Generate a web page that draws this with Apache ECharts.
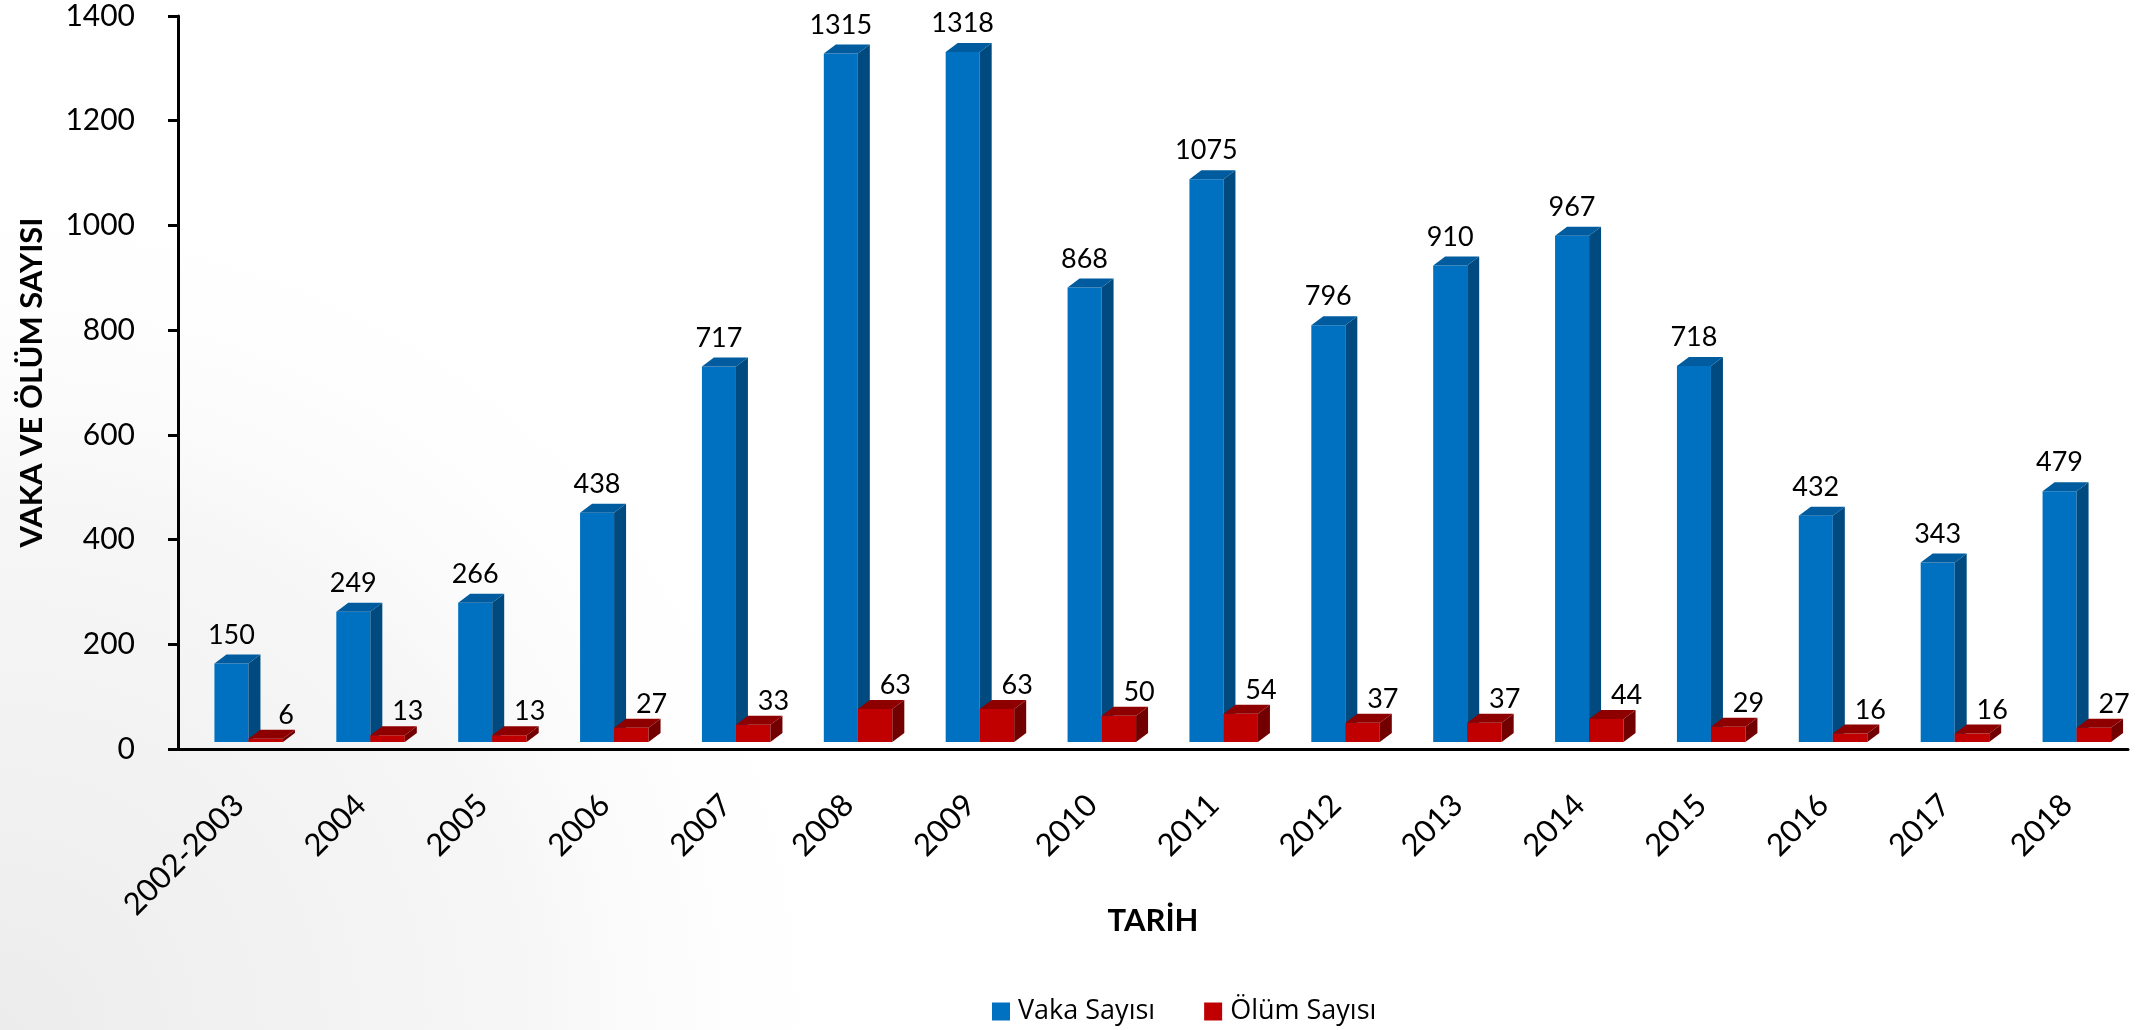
<!DOCTYPE html>
<html>
<head>
<meta charset="utf-8">
<script src="https://cdn.jsdelivr.net/npm/echarts@6/dist/echarts.min.js"></script>
<style>
html,body{margin:0;padding:0;background:#fff;}
#chart{width:2141px;height:1030px;}
</style>
</head>
<body>
<div id="chart"></div>
<script>
// ---- data ----
const categories = ['2002-2003','2004','2005','2006','2007','2008','2009','2010','2011','2012','2013','2014','2015','2016','2017','2018'];
const vakaSayisi = [150,249,266,438,717,1315,1318,868,1075,796,910,967,718,432,343,479];
const olumSayisi = [6,13,13,27,33,63,63,50,54,37,37,44,29,16,16,27];
const yMin = 0, yMax = 1400, yInterval = 200;
const seriesNames = ['Vaka Sayısı','Ölüm Sayısı'];
const yTitle = 'VAKA VE ÖLÜM SAYISI';
const xTitle = 'TARİH';

// ---- 3D bar drawing ----
function bar3d(colors, x0f, x1f, labelDxF, labelGap) {
  return function (params, api) {
    const i = api.value(0), v = api.value(1);
    const c = api.coord([i, v]);
    const b = api.coord([i, 0]);
    const band = api.size([1, 0])[0];
    const lift = 7, dx = 12, dy = 9;
    const xl = c[0] + x0f * band, xr = c[0] + x1f * band;
    const yb = b[1] - lift, yt = c[1] - lift;
    return {
      type: 'group',
      children: [
        {type: 'rect', shape: {x: xl, y: yt, width: xr - xl, height: yb - yt}, style: {fill: colors[0]}},
        {type: 'polygon', shape: {points: [[xr, yt], [xr + dx, yt - dy], [xr + dx, yb - dy], [xr, yb]]}, style: {fill: colors[2]}},
        {type: 'polygon', shape: {points: [[xl, yt], [xl + dx, yt - dy], [xr + dx, yt - dy], [xr, yt]]}, style: {fill: colors[1]}},
        {type: 'text', style: {text: String(v), x: c[0] + labelDxF * band, y: yt - labelGap,
          align: 'center', verticalAlign: 'bottom', font: '27px Lato', fill: '#000'}}
      ]
    };
  };
}

const chart = echarts.init(document.getElementById('chart'), null, {renderer: 'canvas'});
chart.setOption({
  animation: false,
  backgroundColor: '#ffffff',
  graphic: [{
    type: 'rect', z: -10, silent: true,
    shape: {x: 0, y: 0, width: 2141, height: 1030},
    style: {fill: new echarts.graphic.RadialGradient(0, 1, 0.85, [
      {offset: 0, color: 'rgba(236,236,236,1)'},
      {offset: 0.6, color: 'rgba(244,244,244,0.8)'},
      {offset: 1, color: 'rgba(255,255,255,0)'}
    ])}
  }],
  grid: {left: 178, right: 13, top: 16, bottom: 281, containLabel: false},
  legend: {
    data: seriesNames,
    left: 992, top: 998, padding: 0,
    icon: 'rect', itemWidth: 18, itemHeight: 18, itemGap: 49,
    textStyle: {fontFamily: 'Open Sans', fontSize: 27, lineHeight: 27, color: '#000', padding: [0, 0, 0, 3]}
  },
  xAxis: {
    type: 'category',
    data: categories,
    name: xTitle,
    nameLocation: 'middle',
    nameGap: 156,
    nameMoveOverlap: false,
    nameTextStyle: {fontFamily: 'Lato', fontWeight: 'bold', fontSize: 31, color: '#000'},
    axisLine: {lineStyle: {color: '#000', width: 3}},
    axisTick: {show: false},
    axisLabel: {rotate: 45, margin: 51, fontFamily: 'Lato', fontSize: 31, color: '#000', interval: 0},
    splitLine: {show: false}
  },
  yAxis: {
    type: 'value',
    min: yMin, max: yMax, interval: yInterval,
    name: yTitle,
    nameLocation: 'middle',
    nameGap: 131,
    nameMoveOverlap: false,
    nameTextStyle: {fontFamily: 'Lato', fontWeight: 'bold', fontSize: 31, color: '#000'},
    axisLine: {show: true, lineStyle: {color: '#000', width: 3}},
    axisTick: {show: true, length: 10, lineStyle: {color: '#000', width: 3}},
    axisLabel: {margin: 43, fontFamily: 'Lato', fontSize: 30, color: '#000', formatter: v => String(v)},
    splitLine: {show: false}
  },
  series: [
    {
      name: seriesNames[0], type: 'custom',
      itemStyle: {color: '#0070C0'},
      renderItem: bar3d(['#0070C0', '#005C9E', '#004A80'], -0.201, 0.078, -0.062, 15),
      encode: {x: 0, y: 1},
      data: vakaSayisi.map((v, i) => [i, v])
    },
    {
      name: seriesNames[1], type: 'custom',
      itemStyle: {color: '#C00000'},
      renderItem: bar3d(['#C00000', '#8E0000', '#720000'], 0.078, 0.361, 0.386, 10),
      encode: {x: 0, y: 1},
      data: olumSayisi.map((v, i) => [i, v])
    }
  ]
});
</script>
</body>
</html>
